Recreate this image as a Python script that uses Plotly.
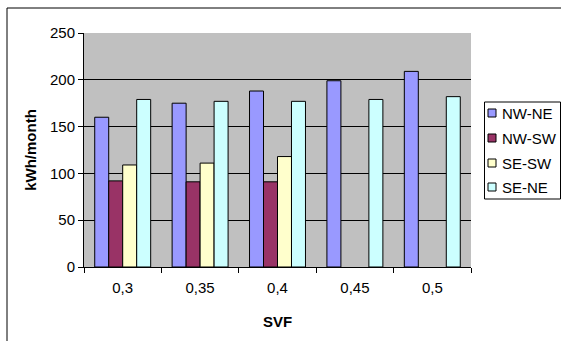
import plotly.graph_objects as go

categories = ["0,3", "0,35", "0,4", "0,45", "0,5"]
nw_ne = [160, 175, 188, 199, 209]
nw_sw = [92, 91, 91, None, None]
se_sw = [109, 111, 118, None, None]
se_ne = [179, 177, 177, 179, 182]
y_ticks = [0, 50, 100, 150, 200, 250]

series = [
    ("NW-NE", nw_ne, "#9999FF"),
    ("NW-SW", nw_sw, "#993366"),
    ("SE-SW", se_sw, "#FFFFCC"),
    ("SE-NE", se_ne, "#CCFFFF"),
]

fig = go.Figure()
for name, vals, col in series:
    fig.add_trace(go.Bar(x=categories, y=vals, name=name, showlegend=False,
                         marker=dict(color=col, line=dict(color="#000000", width=1))))

L, R, T, B = 84, 90, 33, 74
W, H = 561, 341
pw, ph = W - L - R, H - T - B

def px(x):
    return (x - L) / pw

def py(y):
    return (H - B - y) / ph

shapes = [
    dict(type="rect", xref="paper", yref="paper",
         x0=px(7), x1=px(566), y0=py(8), y1=py(346),
         line=dict(color="black", width=1), fillcolor="rgba(0,0,0,0)", layer="below"),
    # legend box
    dict(type="rect", xref="paper", yref="paper",
         x0=px(484.5), x1=px(560.5), y0=py(102), y1=py(199),
         line=dict(color="black", width=1), fillcolor="white", layer="above"),
]
annotations = []
row_y = [113, 138, 163, 187]
for (name, vals, col), yy in zip(series, row_y):
    shapes.append(dict(type="rect", xref="paper", yref="paper",
                       x0=px(488), x1=px(496), y0=py(yy - 4), y1=py(yy + 4),
                       line=dict(color="black", width=1), fillcolor=col, layer="above"))
    annotations.append(dict(xref="paper", yref="paper", x=px(500), y=py(yy),
                            xanchor="left", yanchor="middle", showarrow=False,
                            text=name, font=dict(size=15, color="black")))

fig.update_layout(
    width=W, height=H,
    margin=dict(l=L, r=R, t=T, b=B, pad=0, autoexpand=False),
    paper_bgcolor="white",
    plot_bgcolor="#C0C0C0",
    barmode="group",
    bargap=0.277,
    bargroupgap=0,
    font=dict(family="Liberation Sans, Arial", size=15, color="black"),
    showlegend=False,
    xaxis=dict(
        showline=True, linecolor="black", linewidth=1,
        ticks="outside", ticklen=5, tickcolor="black", tickson="boundaries",
        ticklabelstandoff=7,
        title=dict(text="<b>SVF</b>", font=dict(size=15), standoff=21),
        tickfont=dict(size=15),
    ),
    yaxis=dict(
        range=[0, 250], tickvals=y_ticks,
        showline=True, linecolor="black", linewidth=1,
        ticks="outside", ticklen=5, tickcolor="black",
        showgrid=True, gridcolor="black", gridwidth=1,
        zeroline=False,
        title=dict(text="<b>kWh/month</b>", font=dict(size=15), standoff=9),
        tickfont=dict(size=15),
    ),
    shapes=shapes,
    annotations=annotations,
)

fig.write_html("out.html", config={"displayModeBar": False},
               post_script="document.body.style.margin='0';")
